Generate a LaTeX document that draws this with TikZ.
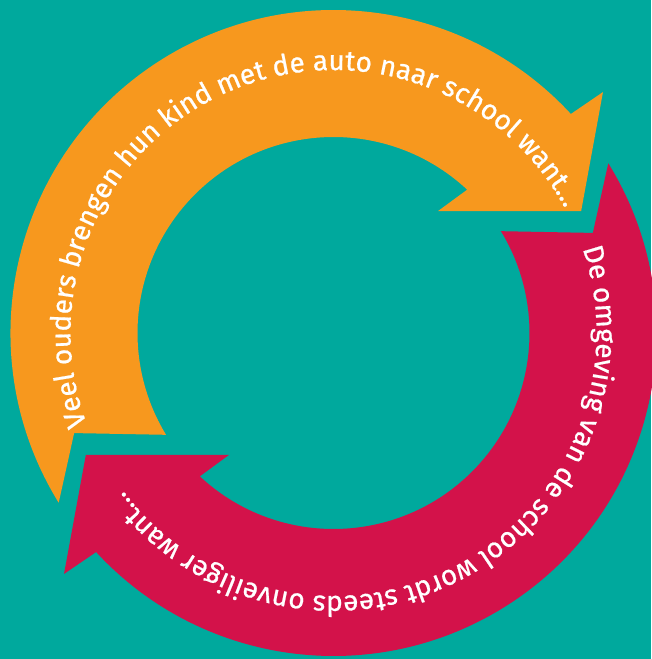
\documentclass[tikz,border=0pt]{standalone}
\usepackage{fontspec}
\setmainfont{Fira Sans}
\newfontfamily\arcfam{Fira Sans}[FakeBold=0.7]
\usetikzlibrary{decorations.text}
\definecolor{bgteal}{HTML}{00A99D}
\definecolor{arrorange}{HTML}{F7981E}
\definecolor{arrcrimson}{HTML}{D3124A}
\tikzset{
  arrowshape/.style={fill=#1, draw=none},
  arctext/.style={decorate, decoration={text along path, text align=left, text={#1}}}
}
\newcommand{\arcfont}{\color{white}\arcfam\fontsize{28}{32}\selectfont}
\begin{document}
\begin{tikzpicture}
\fill[bgteal] (-333.5pt,333pt) rectangle (317.5pt,-326pt);
\useasboundingbox (-333.5pt,333pt) rectangle (317.5pt,-326pt);
% orange arrow
\fill[arrowshape=arrorange] (211.7:323pt) arc[start angle=211.7, end angle=42.7, radius=323pt]
  -- (41.8:361.5pt) -- (26.2:276pt) -- (49.4:160.6pt) -- (47:196pt)
  arc[start angle=47, end angle=211.3, radius=196pt] -- (201.1:278pt) -- cycle;
% crimson arrow
\fill[arrowshape=arrcrimson] (31.7:323pt) arc[start angle=31.7, end angle=-137.3, radius=323pt]
  -- (221.8:361.5pt) -- (206.2:276pt) -- (229.4:160.6pt) -- (227:196pt)
  arc[start angle=227, end angle=391.3, radius=196pt] -- (381.1:278pt) -- cycle;
% texts
\path[arctext={|\arcfont|Veel ouders brengen hun kind met de auto naar school want...}]
  (200.3:263pt) arc[start angle=200.3, end angle=20, radius=263pt];
\path[arctext={|\arcfont|De omgeving van de school wordt steeds onveiliger want...}]
  (18.7:263pt) arc[start angle=18.7, end angle=-160, radius=263pt];
\end{tikzpicture}
\end{document}
